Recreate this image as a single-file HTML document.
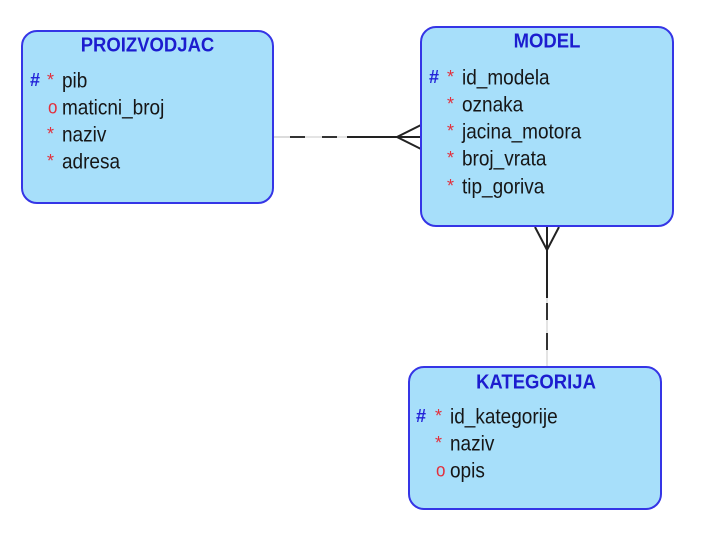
<!DOCTYPE html>
<html>
<head>
<meta charset="utf-8">
<style>
html,body{margin:0;padding:0;background:#fff;}
body{width:703px;height:538px;overflow:hidden;}
svg{display:block;}
text{transform-box:fill-box;transform-origin:center;}
.t{font-family:"Liberation Sans",Arial,sans-serif;font-weight:bold;font-size:18.5px;fill:#1c1ccf;transform:scaleY(1.1);}
.a{font-family:"Liberation Sans",Arial,sans-serif;font-size:19px;fill:#161616;transform:scaleY(1.12);}
.h{font-family:"Liberation Sans",Arial,sans-serif;font-size:18px;fill:#2323d8;font-weight:bold;}
.s{font-family:"Liberation Sans",Arial,sans-serif;font-size:18px;fill:#e2303c;}
.o{font-family:"Liberation Sans",Arial,sans-serif;font-size:17px;fill:#e2303c;transform:scaleY(1.12);}
</style>
</head>
<body>
<svg width="703" height="538" viewBox="0 0 703 538" xmlns="http://www.w3.org/2000/svg">
  <!-- horizontal connector -->
  <line x1="274" y1="137" x2="290" y2="137" stroke="#dcdcdc" stroke-width="2"/>
  <line x1="290" y1="137" x2="305" y2="137" stroke="#333" stroke-width="2"/>
  <line x1="305" y1="137" x2="322" y2="137" stroke="#e4e4e4" stroke-width="2"/>
  <line x1="322" y1="137" x2="337" y2="137" stroke="#333" stroke-width="2"/>
  <line x1="337" y1="137" x2="347" y2="137" stroke="#e4e4e4" stroke-width="2"/>
  <line x1="347" y1="137" x2="421" y2="137" stroke="#222" stroke-width="2"/>
  <polyline points="421,125 397,137 421,149" fill="none" stroke="#222" stroke-width="2"/>

  <!-- vertical connector -->
  <line x1="547" y1="227" x2="547" y2="298" stroke="#222" stroke-width="2"/>
  <polyline points="535,227 547,250 559,227" fill="none" stroke="#222" stroke-width="2"/>
  <line x1="547" y1="298" x2="547" y2="303" stroke="#e4e4e4" stroke-width="2"/>
  <line x1="547" y1="303" x2="547" y2="320" stroke="#333" stroke-width="2"/>
  <line x1="547" y1="320" x2="547" y2="333" stroke="#e4e4e4" stroke-width="2"/>
  <line x1="547" y1="333" x2="547" y2="350" stroke="#333" stroke-width="2"/>
  <line x1="547" y1="350" x2="547" y2="366" stroke="#e4e4e4" stroke-width="2"/>

  <!-- PROIZVODJAC -->
  <rect x="22" y="31" width="251" height="172" rx="15" ry="15" fill="#a7dffa" stroke="#3535e6" stroke-width="2"/>
  <text class="t" x="147.5" y="51" text-anchor="middle">PROIZVODJAC</text>
  <text class="h" x="30" y="86">#</text><text class="s" x="47" y="86">*</text><text class="a" x="62" y="87">pib</text>
  <text class="o" x="48" y="113">o</text><text class="a" x="62" y="114">maticni_broj</text>
  <text class="s" x="47" y="140">*</text><text class="a" x="62" y="141">naziv</text>
  <text class="s" x="47" y="167">*</text><text class="a" x="62" y="168">adresa</text>

  <!-- MODEL -->
  <rect x="421" y="27" width="252" height="199" rx="15" ry="15" fill="#a7dffa" stroke="#3535e6" stroke-width="2"/>
  <text class="t" x="547" y="47" text-anchor="middle">MODEL</text>
  <text class="h" x="429" y="83">#</text><text class="s" x="447" y="83">*</text><text class="a" x="462" y="84">id_modela</text>
  <text class="s" x="447" y="110">*</text><text class="a" x="462" y="111">oznaka</text>
  <text class="s" x="447" y="137">*</text><text class="a" x="462" y="138">jacina_motora</text>
  <text class="s" x="447" y="164">*</text><text class="a" x="462" y="165">broj_vrata</text>
  <text class="s" x="447" y="192">*</text><text class="a" x="462" y="193">tip_goriva</text>

  <!-- KATEGORIJA -->
  <rect x="409" y="367" width="252" height="142" rx="15" ry="15" fill="#a7dffa" stroke="#3535e6" stroke-width="2"/>
  <text class="t" x="536" y="388" text-anchor="middle">KATEGORIJA</text>
  <text class="h" x="416" y="422">#</text><text class="s" x="435" y="422">*</text><text class="a" x="450" y="423">id_kategorije</text>
  <text class="s" x="435" y="449">*</text><text class="a" x="450" y="450">naziv</text>
  <text class="o" x="436" y="476">o</text><text class="a" x="450" y="477">opis</text>
</svg>
</body>
</html>
